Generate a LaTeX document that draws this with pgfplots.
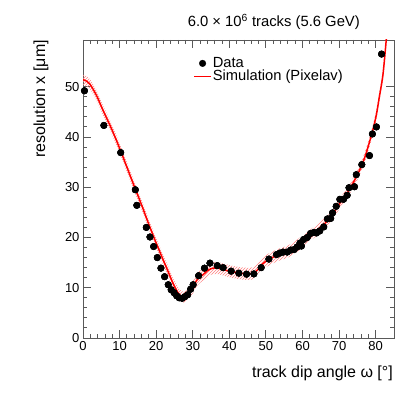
\documentclass[border=0pt]{standalone}
\usepackage{fontspec}
\setmainfont{Liberation Sans}
\usepackage{pgfplots}
\usepackage{pgfplotstable}
\pgfplotsset{compat=1.18}
\usepgfplotslibrary{fillbetween}
\usetikzlibrary{patterns}

% measured resolution vs dip angle
\pgfplotstableread{
x y
0.4 49.2
5.7 42.3
10.3 36.9
14.3 29.5
14.7 26.4
17.3 22.0
18.3 20.1
19.3 18.2
20.3 16.0
21.3 13.9
22.3 12.2
23.3 10.6
24.1 9.6
24.9 9.0
25.6 8.4
26.3 8.0
27.1 7.9
27.8 8.2
28.6 8.6
29.4 9.7
30.1 10.6
31.6 12.4
33.2 13.9
34.7 14.9
36.7 14.4
38.3 14.0
40.5 13.3
42.6 12.9
44.7 12.7
46.7 12.75
48.7 14.0
50.8 15.7
52.9 16.6
53.8 16.9
54.7 17.1
55.8 17.1
56.8 17.5
57.7 17.6
58.5 18.1
59.3 18.9
59.7 18.3
60.3 19.6
61.3 20.0
62.2 20.8
63.1 21.0
63.8 20.9
64.7 21.3
65.8 22.1
66.8 23.7
67.7 23.8
68.2 24.9
69.2 26.2
70.2 27.6
71.2 27.6
72.2 28.4
72.7 29.9
74.2 30.1
74.7 32.5
76.2 34.5
78.3 36.3
79.1 40.6
80.2 42.0
81.6 56.5
}\datatab

% Pixelav simulation with its uncertainty
\pgfplotstableread{
x y e
0 51.4 1.0
1 51.1 1.0
2 50.4 1.0
3 49.2 1.0
4 47.8 1.0
5.6 45.1 1.0
8 41.3 1.0
10.2 37.4 1.0
12 34.0 1.0
14 30.2 1.0
16 26.5 1.0
18 22.6 1.0
20 18.9 1.0
22 15.4 1.0
23.5 12.8 1.1
24.7 10.7 1.1
25.7 9.3 1.1
26.5 8.5 1.1
27.2 8.15 1.1
28 8.2 1.1
28.8 8.7 1.1
29.5 9.4 1.1
30.2 10.3 1.2
31 11.4 1.2
32 12.2 1.2
33 12.7 1.2
34 13.4 1.2
35 13.8 1.2
36.5 13.95 1.2
38 13.7 1.2
40 13.3 1.2
42 13.0 1.2
44 12.8 1.2
46 12.8 1.2
47.5 13.4 1.2
49 14.7 1.2
50.5 15.5 1.2
52 16.1 1.2
54 16.7 1.2
56 17.2 1.2
58 18.1 1.2
60 19.2 1.2
62 20.4 1.1
64 21.5 1.1
66 22.7 1.1
68 24.3 1.0
70 26.6 1.0
72 28.6 1.0
74 31.1 1.0
75.6 33.4 1.0
77 35.9 1.0
78.3 39.0 1.0
79.3 41.6 1.0
80.2 44.5 1.0
81 48.0 1.0
82 52.5 1.0
82.9 59.5 1.0
}\simtab

\begin{document}
\begin{tikzpicture}
\begin{axis}[
    at={(83pt,61pt)}, anchor=south west,
    scale only axis, width=311pt, height=298pt,
    xmin=0, xmax=85, ymin=0, ymax=59.3,
    xtick={0,10,...,80}, ytick={0,10,...,50},
    minor x tick num=4, minor y tick num=4,
    tick align=inside,
    major tick length=8pt, minor tick length=4pt,
    axis line style={black!65, line width=0.9pt},
    tick style={black!65, line width=0.9pt},
    /pgf/number format/assume math mode=true,
    tick label style={font=\fontsize{13}{13}\selectfont},
    every axis legend/.style={
        cells={anchor=west}, shape=rectangle,
        nodes={inner sep=1pt, text depth=0.15em},
        at={(0.354,0.945)}, anchor=north west,
        inner sep=0pt, row sep=-1pt,
        /tikz/every even column/.append style={column sep=4pt},
        font=\fontsize{14.7}{14.7}\selectfont},
    legend cell align=left,
]
\addplot[name path=up, draw=none, forget plot, smooth]
    table[x=x, y expr=\thisrow{y}+\thisrow{e}] {\simtab};
\addplot[name path=lo, draw=none, forget plot, smooth]
    table[x=x, y expr=\thisrow{y}-\thisrow{e}] {\simtab};
\addplot[pattern=north east lines, pattern color=red!50, draw=none, forget plot]
    fill between[of=up and lo];
\addplot[only marks, mark=*, mark size=3.3pt, black]
    table[x=x, y=y] {\datatab};
\addlegendentry{Data}
\addplot[red, line width=1.5pt, smooth, no marks] table[x=x, y=y] {\simtab};
\addlegendentry{Simulation (Pixelav)}
\addplot[only marks, mark=*, mark size=3.3pt, black, forget plot]
    table[x=x, y=y] {\datatab};
\end{axis}
\node[anchor=base east, inner sep=0pt, font=\fontsize{14.8}{14.8}\selectfont]
    at (360pt,372pt) {6.0 × 10\textsuperscript{6} tracks (5.6 GeV)};
\node[anchor=base east, inner sep=0pt, font=\fontsize{16}{16}\selectfont]
    at (393pt,22pt) {track dip angle ω [°]};
\node[rotate=90, anchor=base east, inner sep=0pt, font=\fontsize{16}{16}\selectfont]
    at (45pt,359pt) {resolution x [μm]};
\path (0pt,0pt) rectangle (415pt,399pt);
\end{tikzpicture}
\end{document}
